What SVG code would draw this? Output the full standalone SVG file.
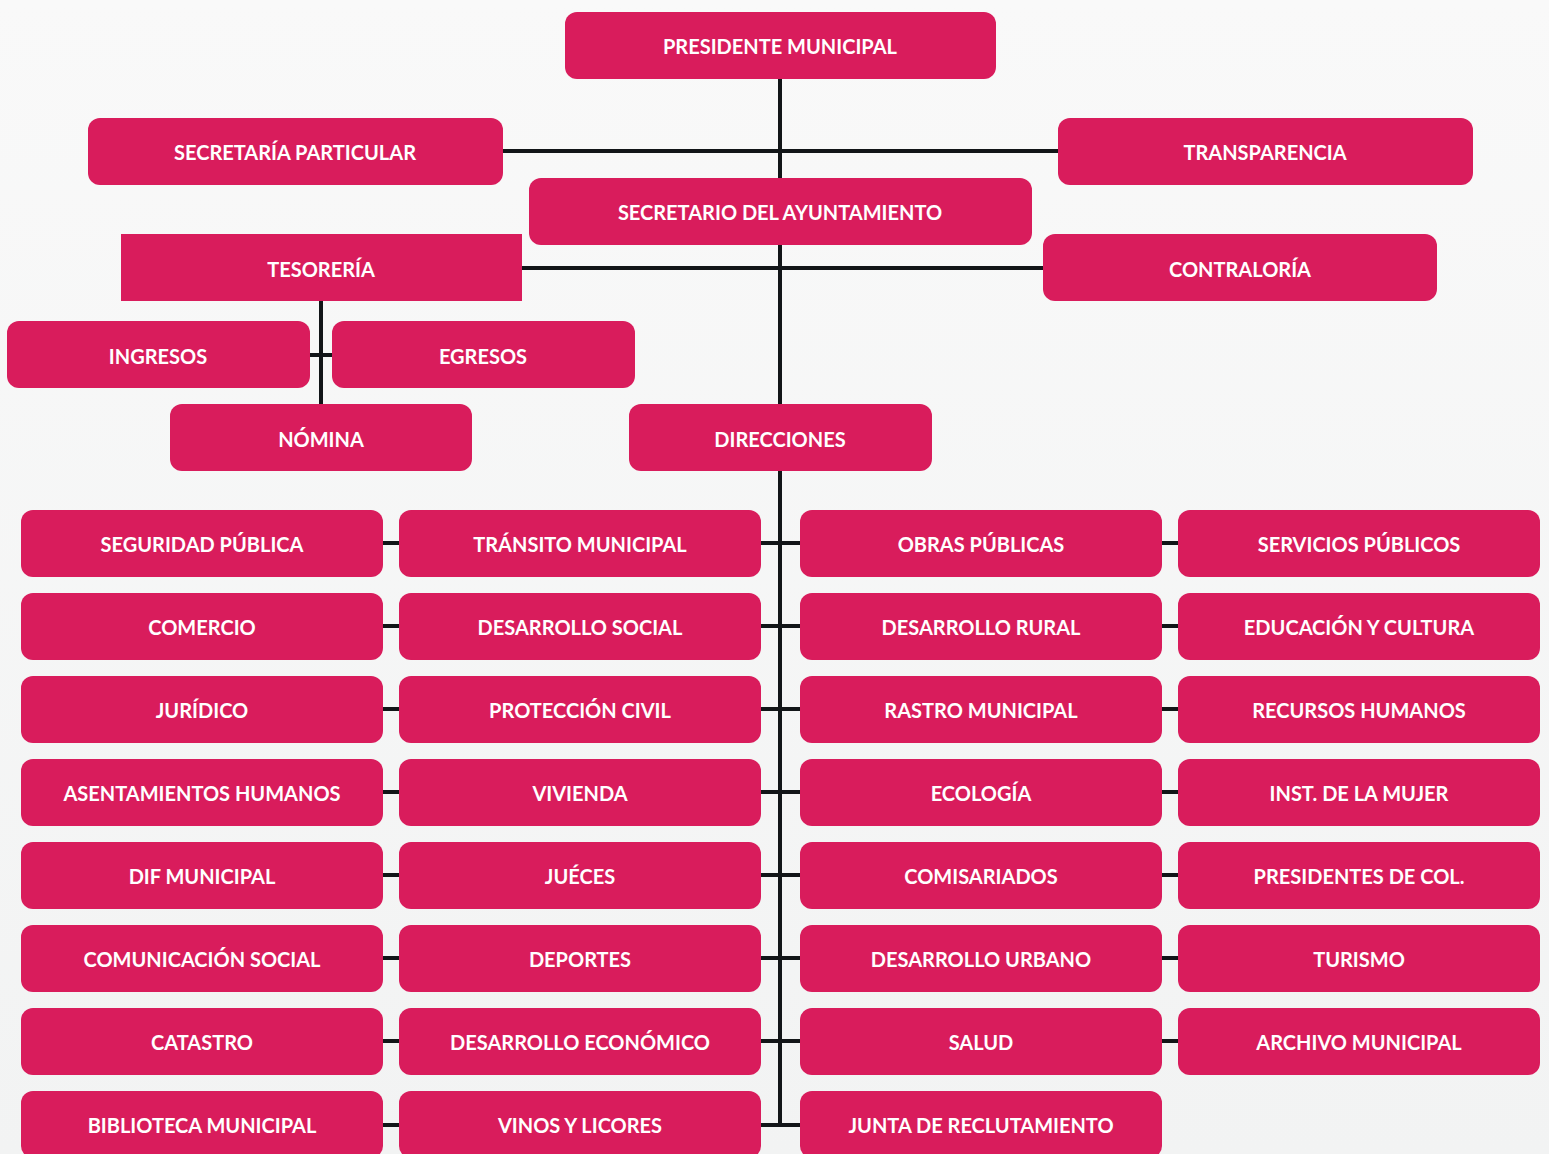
<svg xmlns="http://www.w3.org/2000/svg" width="1549" height="1154" viewBox="0 0 1549 1154">
<defs>
<linearGradient id="bg" x1="0" y1="0" x2="0" y2="1">
<stop offset="0" stop-color="#F9F9F9"/>
<stop offset="1" stop-color="#F2F3F3"/>
</linearGradient>
</defs>
<style>
.n rect{fill:#D91C5C;}
.n text{fill:#FFFFFF;font-family:Lato,"Open Sans",sans-serif;font-weight:bold;font-size:20px;text-anchor:middle;dominant-baseline:central;}
.c line{stroke:#121518;stroke-width:4;}
</style>
<rect width="1549" height="1154" fill="url(#bg)"/>
<g id="connectors" class="c">
<line x1="780" y1="79" x2="780" y2="1127"/>
<line x1="503" y1="151" x2="1058" y2="151"/>
<line x1="522" y1="268" x2="1043" y2="268"/>
<line x1="321" y1="301" x2="321" y2="405"/>
<line x1="310" y1="355" x2="332" y2="355"/>
<line x1="383" y1="543" x2="780" y2="543"/><line x1="780" y1="543" x2="1178" y2="543"/>
<line x1="383" y1="626" x2="780" y2="626"/><line x1="780" y1="626" x2="1178" y2="626"/>
<line x1="383" y1="709" x2="780" y2="709"/><line x1="780" y1="709" x2="1178" y2="709"/>
<line x1="383" y1="792" x2="780" y2="792"/><line x1="780" y1="792" x2="1178" y2="792"/>
<line x1="383" y1="875" x2="780" y2="875"/><line x1="780" y1="875" x2="1178" y2="875"/>
<line x1="383" y1="958" x2="780" y2="958"/><line x1="780" y1="958" x2="1178" y2="958"/>
<line x1="383" y1="1041" x2="780" y2="1041"/><line x1="780" y1="1041" x2="1178" y2="1041"/>
<line x1="383" y1="1125" x2="780" y2="1125"/><line x1="778" y1="1125" x2="800" y2="1125"/>
</g>
<g id="presidente" class="n"><rect x="565" y="12" width="431" height="67" rx="12"/><text x="780" y="46">PRESIDENTE MUNICIPAL</text></g>
<g id="sec-particular" class="n"><rect x="88" y="118" width="415" height="67" rx="12"/><text x="295" y="152">SECRETARÍA PARTICULAR</text></g>
<g id="transparencia" class="n"><rect x="1058" y="118" width="415" height="67" rx="12"/><text x="1265" y="152">TRANSPARENCIA</text></g>
<g id="secretario" class="n"><rect x="529" y="178" width="503" height="67" rx="12"/><text x="780" y="212">SECRETARIO DEL AYUNTAMIENTO</text></g>
<g id="tesoreria" class="n"><rect x="121" y="234" width="401" height="67"/><text x="321" y="269">TESORERÍA</text></g>
<g id="contraloria" class="n"><rect x="1043" y="234" width="394" height="67" rx="12"/><text x="1240" y="269">CONTRALORÍA</text></g>
<g id="ingresos" class="n"><rect x="7" y="321" width="303" height="67" rx="12"/><text x="158" y="356">INGRESOS</text></g>
<g id="egresos" class="n"><rect x="332" y="321" width="303" height="67" rx="12"/><text x="483" y="356">EGRESOS</text></g>
<g id="nomina" class="n"><rect x="170" y="404" width="302" height="67" rx="12"/><text x="321" y="439">NÓMINA</text></g>
<g id="direcciones" class="n"><rect x="629" y="404" width="303" height="67" rx="12"/><text x="780" y="439">DIRECCIONES</text></g>

<g id="seguridad" class="n"><rect x="21" y="510" width="362" height="67" rx="12"/><text x="202" y="544">SEGURIDAD PÚBLICA</text></g>
<g id="transito" class="n"><rect x="399" y="510" width="362" height="67" rx="12"/><text x="580" y="544">TRÁNSITO MUNICIPAL</text></g>
<g id="obras" class="n"><rect x="800" y="510" width="362" height="67" rx="12"/><text x="981" y="544">OBRAS PÚBLICAS</text></g>
<g id="servicios" class="n"><rect x="1178" y="510" width="362" height="67" rx="12"/><text x="1359" y="544">SERVICIOS PÚBLICOS</text></g>

<g id="comercio" class="n"><rect x="21" y="593" width="362" height="67" rx="12"/><text x="202" y="627">COMERCIO</text></g>
<g id="des-social" class="n"><rect x="399" y="593" width="362" height="67" rx="12"/><text x="580" y="627">DESARROLLO SOCIAL</text></g>
<g id="des-rural" class="n"><rect x="800" y="593" width="362" height="67" rx="12"/><text x="981" y="627">DESARROLLO RURAL</text></g>
<g id="educacion" class="n"><rect x="1178" y="593" width="362" height="67" rx="12"/><text x="1359" y="627">EDUCACIÓN Y CULTURA</text></g>

<g id="juridico" class="n"><rect x="21" y="676" width="362" height="67" rx="12"/><text x="202" y="710">JURÍDICO</text></g>
<g id="proteccion" class="n"><rect x="399" y="676" width="362" height="67" rx="12"/><text x="580" y="710">PROTECCIÓN CIVIL</text></g>
<g id="rastro" class="n"><rect x="800" y="676" width="362" height="67" rx="12"/><text x="981" y="710">RASTRO MUNICIPAL</text></g>
<g id="rrhh" class="n"><rect x="1178" y="676" width="362" height="67" rx="12"/><text x="1359" y="710">RECURSOS HUMANOS</text></g>

<g id="asentamientos" class="n"><rect x="21" y="759" width="362" height="67" rx="12"/><text x="202" y="793">ASENTAMIENTOS HUMANOS</text></g>
<g id="vivienda" class="n"><rect x="399" y="759" width="362" height="67" rx="12"/><text x="580" y="793">VIVIENDA</text></g>
<g id="ecologia" class="n"><rect x="800" y="759" width="362" height="67" rx="12"/><text x="981" y="793">ECOLOGÍA</text></g>
<g id="mujer" class="n"><rect x="1178" y="759" width="362" height="67" rx="12"/><text x="1359" y="793">INST. DE LA MUJER</text></g>

<g id="dif" class="n"><rect x="21" y="842" width="362" height="67" rx="12"/><text x="202" y="876">DIF MUNICIPAL</text></g>
<g id="jueces" class="n"><rect x="399" y="842" width="362" height="67" rx="12"/><text x="580" y="876">JUÉCES</text></g>
<g id="comisariados" class="n"><rect x="800" y="842" width="362" height="67" rx="12"/><text x="981" y="876">COMISARIADOS</text></g>
<g id="presidentes-col" class="n"><rect x="1178" y="842" width="362" height="67" rx="12"/><text x="1359" y="876">PRESIDENTES DE COL.</text></g>

<g id="comunicacion" class="n"><rect x="21" y="925" width="362" height="67" rx="12"/><text x="202" y="959">COMUNICACIÓN SOCIAL</text></g>
<g id="deportes" class="n"><rect x="399" y="925" width="362" height="67" rx="12"/><text x="580" y="959">DEPORTES</text></g>
<g id="des-urbano" class="n"><rect x="800" y="925" width="362" height="67" rx="12"/><text x="981" y="959">DESARROLLO URBANO</text></g>
<g id="turismo" class="n"><rect x="1178" y="925" width="362" height="67" rx="12"/><text x="1359" y="959">TURISMO</text></g>

<g id="catastro" class="n"><rect x="21" y="1008" width="362" height="67" rx="12"/><text x="202" y="1042">CATASTRO</text></g>
<g id="des-economico" class="n"><rect x="399" y="1008" width="362" height="67" rx="12"/><text x="580" y="1042">DESARROLLO ECONÓMICO</text></g>
<g id="salud" class="n"><rect x="800" y="1008" width="362" height="67" rx="12"/><text x="981" y="1042">SALUD</text></g>
<g id="archivo" class="n"><rect x="1178" y="1008" width="362" height="67" rx="12"/><text x="1359" y="1042">ARCHIVO MUNICIPAL</text></g>

<g id="biblioteca" class="n"><rect x="21" y="1091" width="362" height="67" rx="12"/><text x="202" y="1125">BIBLIOTECA MUNICIPAL</text></g>
<g id="vinos" class="n"><rect x="399" y="1091" width="362" height="67" rx="12"/><text x="580" y="1125">VINOS Y LICORES</text></g>
<g id="junta" class="n"><rect x="800" y="1091" width="362" height="67" rx="12"/><text x="981" y="1125">JUNTA DE RECLUTAMIENTO</text></g>
</svg>
